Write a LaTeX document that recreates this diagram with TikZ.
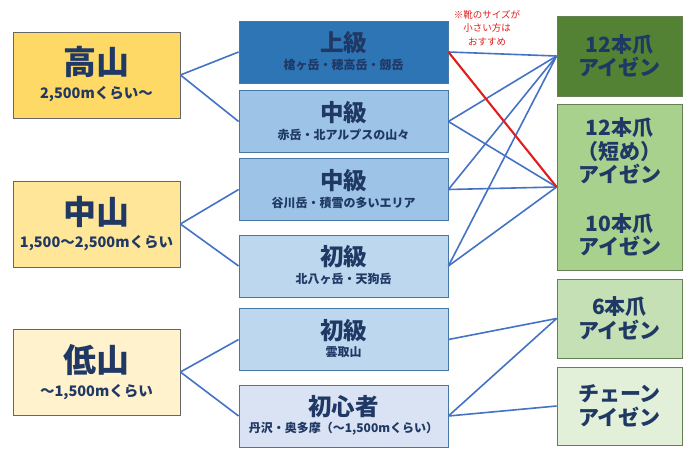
\documentclass[tikz,border=0pt]{standalone}
\usepackage{fontspec}
\setmainfont{Noto Sans CJK JP}
\usetikzlibrary{positioning}
\definecolor{navy}{HTML}{1F3864}
\definecolor{linkblue}{HTML}{4472C4}
\definecolor{warnred}{HTML}{E01E1E}
\definecolor{hiFill}{HTML}{FFD966}
\definecolor{midFill}{HTML}{FFE699}
\definecolor{lowFill}{HTML}{FFF2CC}
\definecolor{joFill}{HTML}{2E75B6}
\definecolor{chuFill}{HTML}{9DC3E6}
\definecolor{shoFill}{HTML}{BDD7EE}
\definecolor{begFill}{HTML}{DAE3F3}
\definecolor{aFill}{HTML}{548235}
\definecolor{bFill}{HTML}{A9D18E}
\definecolor{cFill}{HTML}{C5E0B4}
\definecolor{dFill}{HTML}{E2F0D9}
\tikzset{
  lbox/.style={draw=gray!80!black, line width=0.8pt, minimum width=167pt, minimum height=86pt, inner sep=0pt},
  mbox/.style={draw=joFill!70!gray, line width=0.8pt, minimum width=209pt, minimum height=62pt, inner sep=0pt},
  rbox/.style={draw=aFill!60!gray, line width=0.8pt, minimum width=125pt, inner sep=0pt, align=center,
    text=navy, font=\bfseries\fontsize{21}{23.5}\selectfont},
  ltitle/.style={inner sep=0pt, text=navy, font=\bfseries\fontsize{33}{35}\selectfont},
  lsub/.style={inner sep=0pt, text=navy, font=\bfseries\fontsize{14.5}{16}\selectfont},
  mtitle/.style={inner sep=0pt, text=navy, font=\bfseries\fontsize{23.5}{25}\selectfont},
  msub/.style={inner sep=0pt, text=navy, font=\bfseries\fontsize{12}{14}\selectfont},
  link/.style={draw=linkblue, line width=1.6pt},
  warnlink/.style={draw=warnred, line width=2.1pt}
}
\begin{document}
\begin{tikzpicture}[x=1pt, y=-1pt]
  \useasboundingbox[fill=white] (0,0) rectangle (695,460);
  % height classes
  \node[lbox, fill=hiFill] (hi) at (96.5,75) {};
  \node[ltitle] (hi-t) at ([yshift=13pt]hi.center) {高山};
  \node[lsub] (hi-s) at ([yshift=-19pt]hi.center) {2,500mくらい〜};
  \node[lbox, fill=midFill] (mid) at (96.5,224) {};
  \node[ltitle] (mid-t) at ([yshift=12pt]mid.center) {中山};
  \node[lsub] (mid-s) at ([yshift=-19pt]mid.center) {1,500〜2,500mくらい};
  \node[lbox, fill=lowFill] (low) at (96.5,372) {};
  \node[ltitle] (low-t) at ([yshift=12pt]low.center) {低山};
  \node[lsub] (low-s) at ([yshift=-20pt]low.center) {〜1,500mくらい};
  % levels
  \node[mbox, fill=joFill] (jo) at (343.5,52) {};
  \node[mtitle] (jo-t) at ([yshift=9pt]jo.center) {上級};
  \node[msub] (jo-s) at ([yshift=-13pt]jo.center) {槍ヶ岳・穂高岳・劔岳};
  \node[mbox, fill=chuFill] (chuA) at (343.5,121.5) {};
  \node[mtitle] (chuA-t) at ([yshift=9pt]chuA.center) {中級};
  \node[msub] (chuA-s) at ([yshift=-13pt]chuA.center) {赤岳・北アルプスの山々};
  \node[mbox, fill=chuFill] (chuB) at (343.5,189.5) {};
  \node[mtitle] (chuB-t) at ([yshift=9pt]chuB.center) {中級};
  \node[msub] (chuB-s) at ([yshift=-13pt]chuB.center) {谷川岳・積雪の多いエリア};
  \node[mbox, fill=shoFill] (shoA) at (343.5,266) {};
  \node[mtitle] (shoA-t) at ([yshift=9pt]shoA.center) {初級};
  \node[msub] (shoA-s) at ([yshift=-13pt]shoA.center) {北八ヶ岳・天狗岳};
  \node[mbox, fill=shoFill] (shoB) at (343.5,339.5) {};
  \node[mtitle] (shoB-t) at ([yshift=9pt]shoB.center) {初級};
  \node[msub] (shoB-s) at ([yshift=-13pt]shoB.center) {雲取山};
  \node[mbox, fill=begFill] (beg) at (343.5,416) {};
  \node[mtitle] (beg-t) at ([yshift=9pt]beg.center) {初心者};
  \node[msub] (beg-s) at ([yshift=-13pt]beg.center) {丹沢・奥多摩（〜1,500mくらい）};
  % crampons
  \node[rbox, fill=aFill, minimum height=80pt] (c12) at (619.5,56) {12本爪\\アイゼン};
  \node[rbox, fill=bFill, minimum height=166pt] (c10) at (619.5,187)
    {12本爪\\（短め）\\アイゼン\\[25pt]10本爪\\アイゼン};
  \node[rbox, fill=cFill, minimum height=79pt] (c6) at (619.5,318.5) {6本爪\\アイゼン};
  \node[rbox, fill=dFill, minimum height=78pt] (chain) at (619.5,406) {チェーン\\アイゼン};
  \node[inner sep=0pt, align=center, text=warnred, font=\fontsize{9.5}{13.5}\selectfont] (note) at (487,28)
    {※靴のサイズが\\小さい方は\\おすすめ};
  % links
  \draw[link] (hi.east) -- (jo.west);
  \draw[link] (hi.east) -- (chuA.west);
  \draw[link] (mid.east) -- (chuB.west);
  \draw[link] (mid.east) -- (shoA.west);
  \draw[link] (low.east) -- (shoB.west);
  \draw[link] (low.east) -- (beg.west);
  \draw[link] (jo.east) -- (c12.west);
  \draw[link] (chuA.east) -- (c12.west);
  \draw[link] (chuA.east) -- (c10.west);
  \draw[link] (chuB.east) -- (c12.west);
  \draw[link] (chuB.east) -- (c10.west);
  \draw[link] (shoA.east) -- (c12.west);
  \draw[link] (shoA.east) -- (c10.west);
  \draw[link] (shoB.east) -- (c6.west);
  \draw[link] (beg.east) -- (c6.west);
  \draw[link] (beg.east) -- (chain.west);
  \draw[warnlink] (jo.east) -- (c10.west);
\end{tikzpicture}
\end{document}
